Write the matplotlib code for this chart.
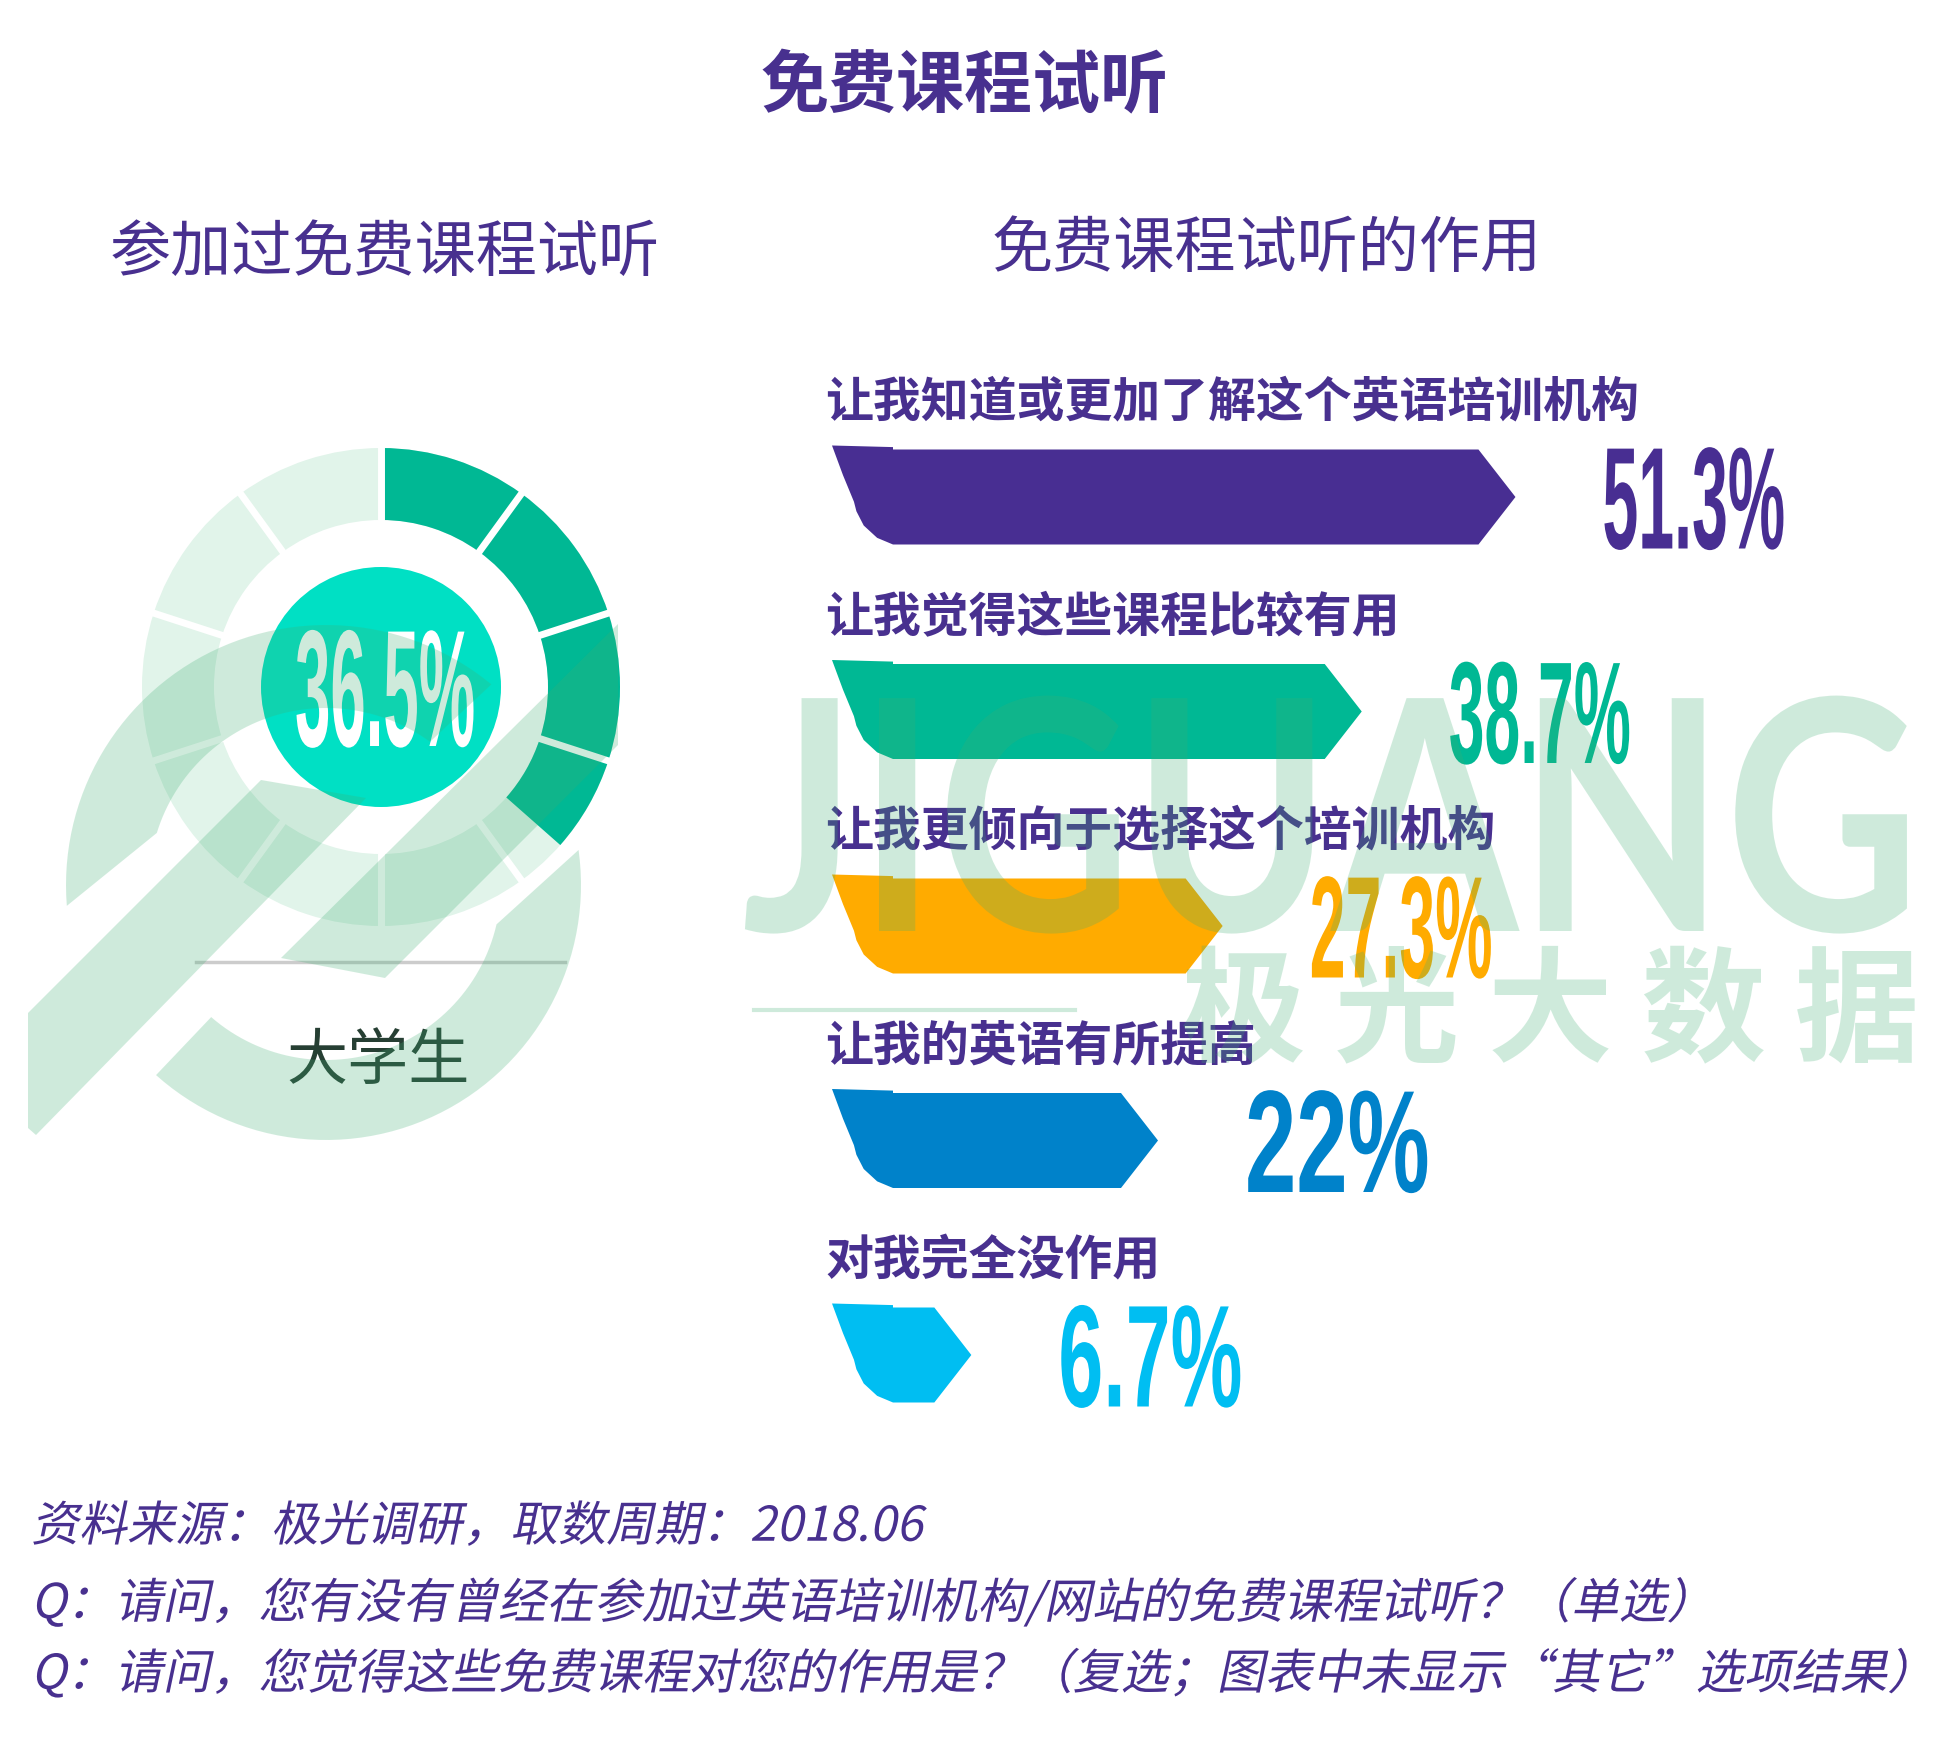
import numpy as np
import matplotlib
matplotlib.use("Agg")
import matplotlib.pyplot as plt
from matplotlib import font_manager
from matplotlib.font_manager import FontProperties
from matplotlib.patches import Wedge, Circle, Polygon
from matplotlib.patheffects import AbstractPathEffect
from matplotlib.textpath import TextPath
from matplotlib.transforms import Affine2D

# ---------------- data ----------------
main_title = "免费课程试听"
left_title = "参加过免费课程试听"
right_title = "免费课程试听的作用"
group_name = "大学生"
participated = 36.5
effect_labels = ["让我知道或更加了解这个英语培训机构",
                 "让我觉得这些课程比较有用",
                 "让我更倾向于选择这个培训机构",
                 "让我的英语有所提高",
                 "对我完全没作用"]
effect_values = [51.3, 38.7, 27.3, 22.0, 6.7]
source_note = "资料来源：极光调研，取数周期：2018.06"
question_1 = "Q：请问，您有没有曾经在参加过英语培训机构/网站的免费课程试听？（单选）"
question_2 = "Q：请问，您觉得这些免费课程对您的作用是？（复选；图表中未显示“其它”选项结果）"
watermark_en = "JIGUANG"
watermark_cn = "极 光 大 数 据"

# ---------------- style ----------------
W, H, DPI = 1960, 1764, 100
PURPLE = "#48308f"
bar_colors = ["#482e92", "#00b894", "#ffab00", "#0082ca", "#00bef2"]
RING_DARK = "#00b894"
RING_LIGHT = "#e1f4ea"
CENTER_FILL = "#00e0c4"
WM_COLOR = "#3faf73"
WM_ALPHA = 0.25

CJK = ["Noto Sans CJK SC", "DejaVu Sans"]
plt.rcParams["font.family"] = CJK

names = {f.name for f in font_manager.fontManager.ttflist}
NUM_FONT = [n for n in ["Liberation Sans Narrow", "Liberation Sans", "DejaVu Sans"] if n in names][0]
EN_FONT = [n for n in ["Lato", "Open Sans", "DejaVu Sans"] if n in names][0]


class Reshape(AbstractPathEffect):
    """Draw text glyphs stretched vertically and/or slanted (text stays real text)."""
    def __init__(self, sx=1.0, sy=1.0, skew=0.0, anchor="center"):
        super().__init__()
        self.sx, self.sy, self.skew, self.anchor = sx, sy, skew, anchor

    def draw_path(self, renderer, gc, tpath, affine, rgbFace=None):
        ext = tpath.get_extents()
        cx = {"left": ext.x0, "right": ext.x1}.get(self.anchor, 0.5 * (ext.x0 + ext.x1))
        pre = (Affine2D().translate(-cx, 0).scale(self.sx, self.sy)
               .skew_deg(self.skew, 0).translate(cx, 0))
        renderer.draw_path(gc, tpath, pre + affine, rgbFace)


def fit_text(s, family, weight, target_h, target_w):
    """Font size giving the target ink width, and vertical stretch giving the target height."""
    fp = FontProperties(family=family, weight=weight)
    ext = TextPath((0, 0), s, size=100, prop=fp).get_extents()
    size_px = 100.0 * target_w / ext.width
    sy = target_h / (ext.height * size_px / 100.0)
    return size_px * 72.0 / DPI, sy


fig = plt.figure(figsize=(W / DPI, H / DPI), dpi=DPI)
fig.patch.set_facecolor("white")

# main pixel axes (y down)
ax_m = fig.add_axes([0, 0, 1, 1], zorder=0)
ax_m.set_xlim(0, W)
ax_m.set_ylim(H, 0)
ax_m.axis("off")

# ---- titles ----
ax_m.text(965, 88, main_title, ha="center", va="center", fontsize=49,
          fontweight="heavy", color=PURPLE)
ax_m.text(385, 254, left_title, ha="center", va="center", fontsize=44, color=PURPLE)
ax_m.text(1267, 250, right_title, ha="center", va="center", fontsize=44, color=PURPLE)

# ---- donut (pixel axes, y up) ----
ax_d = fig.add_axes([0, 0, 1, 1], zorder=1)
ax_d.set_xlim(0, W)
ax_d.set_ylim(0, H)
ax_d.axis("off")
ax_d.patch.set_alpha(0)
DC = (381, H - 687)
R_OUT, R_IN, R_CORE = 239, 167, 120
n_seg = 10
seg = 360.0 / n_seg
filled_deg = 360.0 * participated / 100.0
for k in range(n_seg):
    a_start = k * seg              # clockwise from top
    a_end = (k + 1) * seg
    ax_d.add_patch(Wedge(DC, R_OUT, 90 - a_end, 90 - a_start, width=R_OUT - R_IN,
                         facecolor=RING_LIGHT, edgecolor="none"))
    f_end = min(a_end, filled_deg)
    if f_end > a_start:
        ax_d.add_patch(Wedge(DC, R_OUT, 90 - f_end, 90 - a_start, width=R_OUT - R_IN,
                             facecolor=RING_DARK, edgecolor="none"))
for k in range(n_seg):
    th = np.deg2rad(90 - k * seg)
    ax_d.plot([DC[0] + (R_IN - 3) * np.cos(th), DC[0] + (R_OUT + 3) * np.cos(th)],
              [DC[1] + (R_IN - 3) * np.sin(th), DC[1] + (R_OUT + 3) * np.sin(th)],
              color="white", lw=5, solid_capstyle="butt")
ax_d.add_patch(Circle(DC, R_CORE, facecolor=CENTER_FILL, edgecolor="none"))
pct_txt = f"{participated:g}%"
fs_c, sy_c = fit_text(pct_txt, NUM_FONT, "bold", 118, 177)
ax_d.text(DC[0] + 4, DC[1] - 59, pct_txt, ha="center", va="baseline", fontsize=fs_c,
          fontweight="bold", family=NUM_FONT, color="white",
          path_effects=[Reshape(sy=sy_c)])

ax_m.plot([196, 565], [962, 962], color="#cccccc", lw=2.5)
ax_m.text(378, 1062, group_name, ha="center", va="center", fontsize=44, color="#263f33")

# ---- arrow bars (x in value units, y in row index) ----
PPU = 12.2          # pixels per percentage point
ZERO_PX = 889.6     # pixel position of value 0
Y0, SP = 497, 214.5  # row 0 centre and row spacing (px)
BAR_H, LEFT_W, TIP_D = 95, 61, 37
ax_b = fig.add_axes([0, 0, 1, 1], zorder=2)
ax_b.set_xlim((0 - ZERO_PX) / PPU, (W - ZERO_PX) / PPU)
ax_b.set_ylim((H - Y0) / SP, (0 - Y0) / SP)
ax_b.axis("off")
ax_b.patch.set_alpha(0)

x0 = (832 - ZERO_PX) / PPU
lw_u = LEFT_W / PPU
d_u = TIP_D / PPU
h_u = BAR_H / SP
notch = 4 / SP
for i, (lab, v, col) in enumerate(zip(effect_labels, effect_values, bar_colors)):
    top, bot = i - h_u / 2, i + h_u / 2
    pts = [(x0, top - notch), (x0 + lw_u, top - notch * 0.6), (x0 + lw_u, top),
           (v - d_u, top), (v, i), (v - d_u, bot), (x0 + lw_u, bot)]
    for fx, fy in [(0.74, 0.93), (0.52, 0.8), (0.4, 0.65), (0.36, 0.55), (0.18, 0.27)]:
        pts.append((x0 + fx * lw_u, top + fy * h_u))
    ax_b.add_patch(Polygon(pts, closed=True, facecolor=col, edgecolor="none"))
    ax_b.text((825 - ZERO_PX) / PPU, i - 95 / SP, lab, ha="left", va="center",
              fontsize=34.5, fontweight="heavy", color=PURPLE)
    vt = f"{v:g}%"
    fs_v, sy_v = fit_text(vt, NUM_FONT, "bold", 103, 179)
    ax_b.text(v + 87 / PPU, i + 51.5 / SP, vt, ha="left", va="baseline",
              fontsize=fs_v, fontweight="bold", family=NUM_FONT, color=col,
              path_effects=[Reshape(sy=sy_v)])

# ---- footer ----
for y, s in zip([1527, 1604, 1675], [source_note, question_1, question_2]):
    ax_m.text(31, y, s, ha="left", va="center", fontsize=34.5, color=PURPLE,
              path_effects=[Reshape(skew=12, anchor="left")])

# ---- watermark overlay ----
ax_w = fig.add_axes([0, 0, 1, 1], zorder=10)
ax_w.set_xlim(0, W)
ax_w.set_ylim(H, 0)
ax_w.axis("off")
ax_w.patch.set_alpha(0)


def ring_piece(cx, cy, R, r, o0, o1, i1, i0, n=60):
    ao = np.deg2rad(np.linspace(o0, o1, n))
    ai = np.deg2rad(np.linspace(i1, i0, n))
    xs = np.concatenate([cx + R * np.cos(ao), cx + r * np.cos(ai)])
    ys = np.concatenate([cy - R * np.sin(ao), cy - r * np.sin(ai)])
    return np.column_stack([xs, ys])


LC = (326, 885)
wm_kw = dict(facecolor=WM_COLOR, edgecolor="none", alpha=WM_ALPHA, joinstyle="round")
ax_w.add_patch(Polygon(ring_piece(LC[0], LC[1], 260, 177, 50.5, 184.6, 162.9, 54), **wm_kw))
ax_w.add_patch(Polygon(ring_piece(LC[0], LC[1], 255, 175, -131.8, 7.9, -13, -131), **wm_kw))
ax_w.add_patch(Polygon([(28, 1013), (261, 780), (366, 798), (36, 1135), (28, 1128)], **wm_kw))
ax_w.add_patch(Polygon([(281, 958), (618, 624), (618, 745), (385, 978)], **wm_kw))

fs_en, sy_en = fit_text(watermark_en, EN_FONT, "bold", 238, 1162)
ax_w.text(1331, 931, watermark_en, ha="center", va="baseline", fontsize=fs_en,
          fontweight="bold", family=EN_FONT, color=WM_COLOR, alpha=WM_ALPHA,
          path_effects=[Reshape(sy=sy_en)])
ax_w.text(1550, 1016, watermark_cn, ha="center", va="center", fontsize=90,
          fontweight="bold", color=WM_COLOR, alpha=WM_ALPHA)
ax_w.plot([754, 1075], [1010, 1010], color=WM_COLOR, alpha=WM_ALPHA, lw=3)

fig.savefig("out.png", dpi=DPI, facecolor="white")
